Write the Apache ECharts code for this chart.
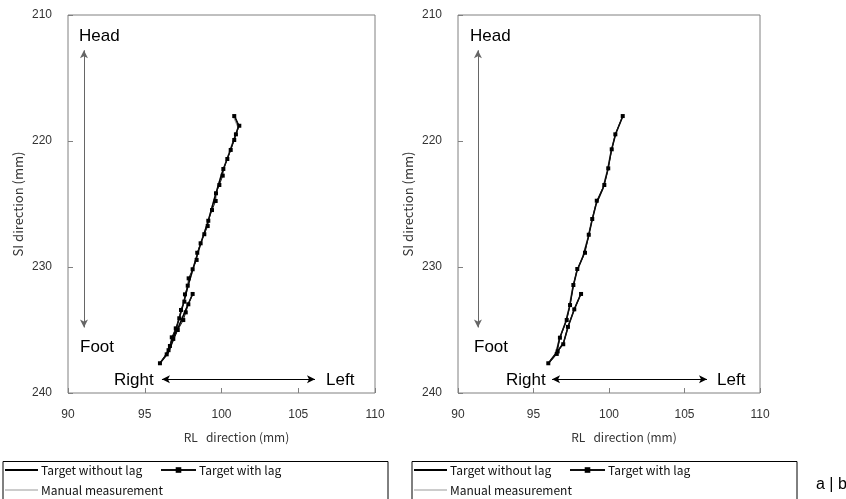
<!DOCTYPE html>
<html>
<head>
<meta charset="utf-8">
<script src="https://cdn.jsdelivr.net/npm/echarts@6/dist/echarts.min.js"></script>
<style>
  html, body { margin: 0; padding: 0; background: #fff; }
  #chart { width: 846px; height: 499px; }
</style>
</head>
<body>
<div id="chart"></div>
<script>
// Axis ranges and ticks (mm)
const xTicks = [90, 95, 100, 105, 110];
const yTicks = [210, 220, 230, 240];

// Panel a: target trajectory in the RL / SI plane, [RL, SI]
const aWithLag = [
  [100.83, 218.02], [101.16, 218.79], [100.94, 219.47], [100.83, 219.92],
  [100.60, 220.71], [100.38, 221.43], [100.12, 222.22], [100.08, 222.75],
  [99.86, 223.49], [99.64, 224.15], [99.62, 224.76], [99.38, 225.48],
  [99.14, 226.33], [99.10, 226.75], [98.88, 227.40], [98.64, 228.12],
  [98.42, 228.87], [98.38, 229.44], [98.12, 230.18], [97.86, 230.90],
  [97.80, 231.48], [97.62, 232.17], [97.58, 232.75], [97.36, 233.41],
  [97.25, 234.07], [97.02, 234.87], [96.76, 235.58], [96.64, 236.27],
  [96.43, 236.93], [95.99, 237.64], [96.55, 236.60], [96.86, 235.71],
  [97.15, 235.00], [97.51, 234.21], [97.67, 233.60], [97.84, 232.96],
  [98.12, 232.14]
];
const aWithoutLag = [
  [100.85, 218.00], [101.12, 218.80], [100.90, 219.60], [100.50, 221.00],
  [100.02, 222.60], [99.58, 224.40], [99.12, 226.40], [98.66, 228.10],
  [98.20, 229.90], [97.82, 231.50], [97.50, 233.00], [97.12, 234.60],
  [96.72, 236.00], [96.40, 237.00], [96.00, 237.62], [96.52, 236.80],
  [96.90, 235.65], [97.32, 234.40], [97.72, 233.25], [98.10, 232.20]
];
const aManual = [
  [100.80, 218.10], [101.08, 218.90], [100.85, 219.70], [100.45, 221.10],
  [99.98, 222.70], [99.55, 224.50], [99.10, 226.50], [98.62, 228.20],
  [98.18, 230.00], [97.80, 231.60], [97.46, 233.10], [97.08, 234.70],
  [96.70, 236.05], [96.38, 237.05], [96.02, 237.58], [96.55, 236.75],
  [96.92, 235.60], [97.35, 234.35], [97.75, 233.20], [98.08, 232.25]
];

// Panel b
const bWithLag = [
  [100.91, 218.02], [100.42, 219.47], [100.18, 220.66], [99.95, 222.17],
  [99.69, 223.49], [99.19, 224.74], [98.89, 226.19], [98.66, 227.44],
  [98.41, 228.87], [97.90, 230.16], [97.64, 231.43], [97.42, 233.02],
  [97.20, 234.21], [96.75, 235.61], [96.54, 236.90], [95.98, 237.64],
  [96.60, 236.70], [96.97, 236.13], [97.28, 234.75], [97.70, 233.36],
  [98.15, 232.14]
];
const bWithoutLag = [
  [100.93, 218.00], [100.45, 219.40], [100.15, 220.80], [99.92, 222.30],
  [99.62, 223.70], [99.15, 225.00], [98.86, 226.40], [98.62, 227.70],
  [98.30, 229.10], [97.88, 230.30], [97.62, 231.60], [97.40, 233.10],
  [97.15, 234.30], [96.72, 235.70], [96.48, 236.95], [96.00, 237.62],
  [96.62, 236.65], [96.98, 236.05], [97.30, 234.70], [97.72, 233.30],
  [98.12, 232.18]
];
const bManual = [
  [100.88, 218.10], [100.40, 219.55], [100.12, 220.90], [99.88, 222.40],
  [99.58, 223.80], [99.12, 225.10], [98.82, 226.50], [98.58, 227.80],
  [98.26, 229.20], [97.85, 230.40], [97.58, 231.70], [97.36, 233.20],
  [97.12, 234.40], [96.70, 235.75], [96.45, 236.98], [96.02, 237.58],
  [96.64, 236.60], [97.00, 236.00], [97.32, 234.65], [97.74, 233.25],
  [98.10, 232.22]
];

const seriesNames = ['Target without lag', 'Target with lag', 'Manual measurement'];

// Orientation arrows, in data units: [x, y] pairs
const arrowsA = {
  vertical: [[91.04, 212.8], [91.04, 234.8]],
  horizontal: [[96.12, 238.9], [106.09, 238.9]]
};
const arrowsB = {
  vertical: [[91.32, 212.8], [91.32, 234.8]],
  horizontal: [[96.23, 238.9], [106.49, 238.9]]
};

const SANS = '"Liberation Sans", Arial, sans-serif';
const NARROW = '"Noto Sans CJK JP", "Liberation Sans Narrow", sans-serif';
const tickFont = { fontFamily: SANS, fontSize: 12, color: '#333' };
const nameFont = { fontFamily: NARROW, fontSize: 12, color: '#333' };

function xAxisFor(idx) {
  return {
    gridIndex: idx, type: 'value', min: xTicks[0], max: xTicks[xTicks.length - 1], interval: 5,
    name: 'RL   direction (mm)', nameLocation: 'middle', nameGap: 38,
    nameTextStyle: Object.assign({ padding: [0, 0, 0, 30] }, nameFont),
    axisLine: { show: false },
    axisTick: { show: true, inside: true, length: 5, lineStyle: { color: '#808080' } },
    axisLabel: Object.assign({ margin: 16 }, tickFont),
    splitLine: { show: false }
  };
}
function yAxisFor(idx) {
  return {
    gridIndex: idx, type: 'value', min: yTicks[0], max: yTicks[yTicks.length - 1], interval: 10, inverse: true,
    name: 'SI direction (mm)', nameLocation: 'middle', nameGap: 43, nameRotate: 90,
    nameTextStyle: Object.assign({}, nameFont, { fontSize: 13 }),
    axisLine: { show: false },
    axisTick: { show: true, inside: true, length: 5, lineStyle: { color: '#808080' } },
    axisLabel: Object.assign({ margin: 16 }, tickFont),
    splitLine: { show: false }
  };
}

function seriesFor(idx, noLag, lag, manual, arrows) {
  return [
    {
      name: seriesNames[2], type: 'line', xAxisIndex: idx, yAxisIndex: idx, data: manual,
      showSymbol: false, symbol: 'none', lineStyle: { color: '#9a9a9a', width: 1.5 },
      itemStyle: { color: '#9a9a9a' }, animation: false, z: 2
    },
    {
      name: seriesNames[0], type: 'line', xAxisIndex: idx, yAxisIndex: idx, data: noLag,
      showSymbol: false, symbol: 'none', lineStyle: { color: '#000', width: 1.5 },
      itemStyle: { color: '#000' }, animation: false, z: 3,
      markLine: {
        silent: true, symbol: ['arrow', 'arrow'], symbolSize: [6, 8], animation: false,
        label: { show: false },
        data: [
          [{ coord: arrows.vertical[0], lineStyle: { color: '#666', width: 1, type: 'solid' } },
           { coord: arrows.vertical[1] }],
          [{ coord: arrows.horizontal[0], lineStyle: { color: '#000', width: 1, type: 'solid' } },
           { coord: arrows.horizontal[1] }]
        ]
      }
    },
    {
      name: seriesNames[1], type: 'line', xAxisIndex: idx, yAxisIndex: idx, data: lag,
      symbol: 'rect', symbolSize: 4, showSymbol: true,
      lineStyle: { color: '#111', width: 1 }, itemStyle: { color: '#000' }, animation: false, z: 4
    }
  ];
}

// One legend entry per component so each can carry its own icon shape
function legendEntry(name, left, top, icon, w, h) {
  const item = { name: name };
  if (icon) item.icon = icon;
  return {
    left: left, top: top, orient: 'horizontal', padding: 0,
    data: [item], itemWidth: w, itemHeight: h, itemGap: 0,
    textStyle: { fontFamily: NARROW, fontSize: 12, color: '#111', padding: [0, 0, 0, -2] },
    selectedMode: false
  };
}
function legendsFor(x0) {
  return [
    legendEntry(seriesNames[0], x0 + 3, 464, 'rect', 33, 2),
    legendEntry(seriesNames[1], x0 + 158, 464, null, 35, 7),
    legendEntry(seriesNames[2], x0 + 3, 484, 'rect', 33, 1)
  ];
}

function label(text, x, y) {
  return {
    type: 'text', left: x, top: y,
    style: { text: text, font: '17px ' + SANS, fill: '#000' }
  };
}
function legendBox(x, w) {
  return {
    type: 'rect', left: x, top: 461, z: -1,
    shape: { width: w, height: 44 },
    style: { fill: '#fff', stroke: '#000', lineWidth: 1 }
  };
}

const chart = echarts.init(document.getElementById('chart'), null, { renderer: 'canvas' });
chart.setOption({
  backgroundColor: '#fff',
  animation: false,
  grid: [
    { left: 68, top: 15, width: 307, height: 378, show: true, borderColor: '#808080', borderWidth: 1, backgroundColor: 'transparent' },
    { left: 458, top: 15, width: 302, height: 378, show: true, borderColor: '#808080', borderWidth: 1, backgroundColor: 'transparent' }
  ],
  xAxis: [xAxisFor(0), xAxisFor(1)],
  yAxis: [yAxisFor(0), yAxisFor(1)],
  legend: [].concat(legendsFor(2), legendsFor(411)),
  series: [].concat(
    seriesFor(0, aWithoutLag, aWithLag, aManual, arrowsA),
    seriesFor(1, bWithoutLag, bWithLag, bManual, arrowsB)
  ),
  graphic: [
    legendBox(2.5, 385), legendBox(411.5, 385),
    label('Head', 79, 28), label('Foot', 80, 339), label('Right', 114, 372), label('Left', 326, 372),
    label('Head', 470, 28), label('Foot', 474, 339), label('Right', 506, 372), label('Left', 717, 372),
    { type: 'text', left: 816, top: 477, style: { text: 'a | b', font: '16px ' + SANS, fill: '#000' } }
  ]
});
</script>
</body>
</html>
